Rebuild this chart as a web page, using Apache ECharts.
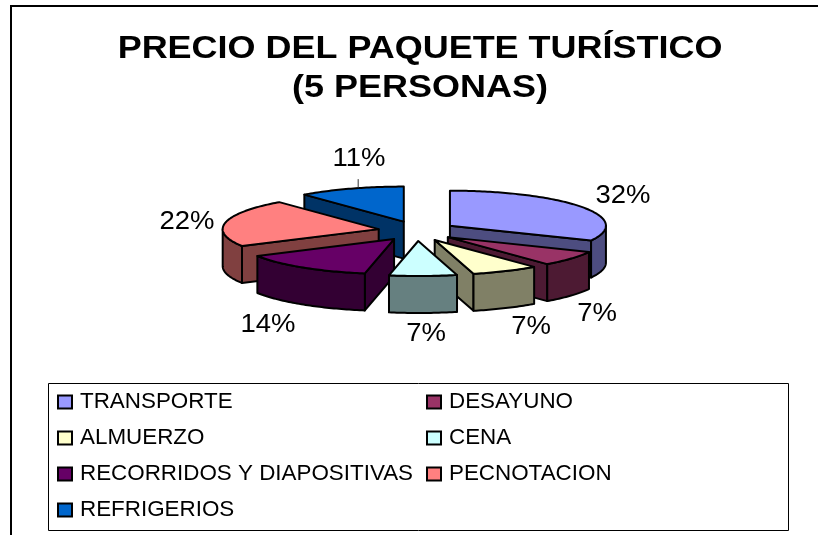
<!DOCTYPE html>
<html>
<head>
<meta charset="utf-8">
<style>
  html, body { margin: 0; padding: 0; background: #fff; }
  #chart { width: 818px; height: 535px; }
</style>
<script src="https://cdn.jsdelivr.net/npm/echarts@6/dist/echarts.min.js"></script>
</head>
<body>
<div id="chart"></div>
<script>
const categories = ['TRANSPORTE', 'DESAYUNO', 'ALMUERZO', 'CENA', 'RECORRIDOS Y DIAPOSITIVAS', 'PECNOTACION', 'REFRIGERIOS']
const percentValues = [32, 7, 7, 7, 14, 22, 11]
const topColors = ['#9999FF', '#993366', '#FFFFCC', '#CCFFFF', '#660066', '#FF8080', '#0066CC']
const sideColors = ['#4D4D80', '#4D1A33', '#808066', '#668080', '#330033', '#804040', '#003366']
const legendLeft = ['TRANSPORTE', 'ALMUERZO', 'RECORRIDOS Y DIAPOSITIVAS', 'REFRIGERIOS']
const legendRight = ['DESAYUNO', 'CENA', 'PECNOTACION']
const titleLines = ['PRECIO DEL PAQUETE TURÍSTICO', '(5 PERSONAS)']

// 3d look: ellipse + extruded sides, back slices are painted first
const paintOrder = [6, 0, 5, 1, 4, 2, 3]
const pie = { cx: 417, cy: 231, rx: 156, ry: 35, depth: 37, explodeX: 39, explodeY: 10 }
const labelPos = [[623, 196], [597, 314], [531, 327], [426, 334], [268, 325], [187, 222], [359, 159]]

const total = percentValues.reduce((a, b) => a + b, 0)
const toDeg = (v) => echarts.number.linearMap(v, [0, total], [0, 360])

function slicePoint(origin, deg) {
  const r = (deg * Math.PI) / 180
  return [origin[0] + pie.rx * Math.sin(r), origin[1] - pie.ry * Math.cos(r)]
}

function arcPoints(origin, from, to, drop) {
  const pts = []
  const steps = Math.max(2, Math.ceil(to - from))
  for (let i = 0; i <= steps; i++) {
    const p = slicePoint(origin, from + ((to - from) * i) / steps)
    pts.push([p[0], p[1] + drop])
  }
  return pts
}

function poly(points, fill) {
  return {
    type: 'polygon',
    shape: { points: points },
    style: { fill: fill, stroke: '#000', lineWidth: 2, lineJoin: 'round' },
  }
}

function renderSlice(idx) {
  const start = toDeg(percentValues.slice(0, idx).reduce((a, b) => a + b, 0))
  const end = start + toDeg(percentValues[idx])
  const mid = ((start + end) / 2) * (Math.PI / 180)
  const apex = [pie.cx + pie.explodeX * Math.sin(mid), pie.cy - pie.explodeY * Math.cos(mid)]
  const side = sideColors[idx]
  const children = []

  const wall = (deg) => {
    const p = slicePoint(apex, deg)
    return poly([apex, p, [p[0], p[1] + pie.depth], [apex[0], apex[1] + pie.depth]], side)
  }
  if (start > 180) children.push(wall(start))
  if (end < 180) children.push(wall(end))

  // outer rim, only the part that faces the viewer
  const rimFrom = Math.max(start, 90)
  const rimTo = Math.min(end, 270)
  if (rimTo > rimFrom) {
    const upper = arcPoints(apex, rimFrom, rimTo, 0)
    const lower = arcPoints(apex, rimFrom, rimTo, pie.depth).reverse()
    children.push(poly(upper.concat(lower), side))
  }

  children.push(poly([apex].concat(arcPoints(apex, start, end, 0)), topColors[idx]))

  // the 11% label is the only one with a leader line
  if (categories[idx] === 'REFRIGERIOS') {
    const p = slicePoint(apex, 343)
    children.push({
      type: 'line',
      shape: { x1: p[0], y1: p[1], x2: p[0], y2: p[1] - 9 },
      style: { stroke: '#333', lineWidth: 1 },
    })
  }

  children.push({
    type: 'text',
    x: labelPos[idx][0],
    y: labelPos[idx][1],
    scaleX: 1.1,
    style: {
      text: percentValues[idx] + '%',
      fill: '#000',
      font: '25px "Liberation Sans"',
      align: 'center',
      verticalAlign: 'middle',
    },
  })
  return { type: 'group', children: children }
}

const series = categories.map((name, idx) => ({
  type: 'custom',
  name: name,
  coordinateSystem: 'none',
  z: 2 + paintOrder.indexOf(idx),
  silent: true,
  data: [percentValues[idx]],
  itemStyle: { color: topColors[idx], borderColor: '#000', borderWidth: 2 },
  renderItem: () => renderSlice(idx),
}))

const legendBase = {
  orient: 'vertical',
  top: 391,
  itemWidth: 14,
  itemHeight: 13,
  itemGap: 14,
  icon: 'rect',
  selectedMode: false,
  padding: 0,
  textStyle: { fontFamily: 'Liberation Sans', fontSize: 22.4, color: '#000', padding: [0, 0, 0, 3] },
}

const titleText = titleLines.map((line, i) => ({
  type: 'text',
  z: 1,
  x: 420,
  y: 49 + i * 39,
  scaleX: 1.16,
  style: {
    text: line,
    fill: '#000',
    font: 'bold 31px "Liberation Sans"',
    align: 'center',
    verticalAlign: 'middle',
  },
}))

const option = {
  animation: false,
  backgroundColor: '#fff',
  legend: [
    Object.assign({}, legendBase, { left: 57, data: legendLeft }),
    Object.assign({}, legendBase, { left: 426, data: legendRight }),
  ],
  graphic: [
    // chart frame, cropped at the right and bottom like the original
    {
      type: 'polyline',
      z: 1,
      shape: { points: [[11, 535], [11, 6], [818, 6]] },
      style: { fill: 'none', stroke: '#000', lineWidth: 2 },
    },
    {
      type: 'rect',
      z: 1,
      shape: { x: 48.5, y: 383.5, width: 740, height: 147 },
      style: { fill: '#fff', stroke: '#000', lineWidth: 1 },
    },
  ].concat(titleText),
  series: series,
}

const myChart = echarts.init(document.getElementById('chart'), null, { renderer: 'canvas' })
myChart.setOption(option)
</script>
</body>
</html>
